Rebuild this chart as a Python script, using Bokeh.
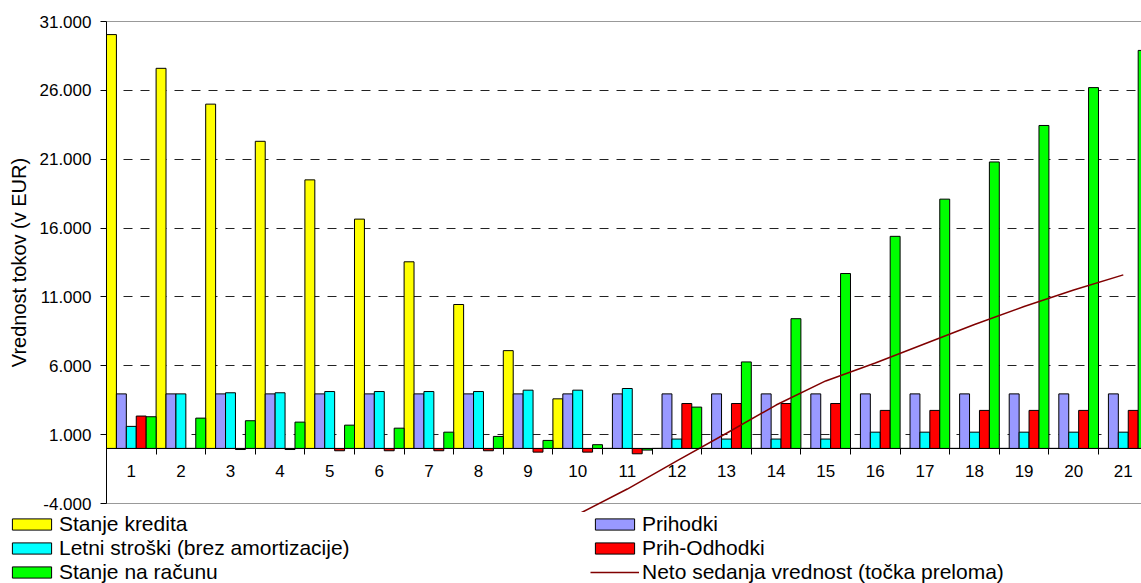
from bokeh.plotting import figure
from bokeh.models import Range1d, FixedTicker, Legend, LegendItem, ColumnDataSource, Grid
from bokeh.transform import dodge
from bokeh.embed import file_html
from bokeh.resources import INLINE

# ---- data ----
years = ["1", "2", "3", "4", "5", "6", "7", "8", "9", "10", "11",
         "12", "13", "14", "15", "16", "17", "18", "19", "20", "21"]

stanje_kredita = [30050, 27600, 25000, 22300, 19500, 16650, 13550, 10450, 7100, 3600, 0,
                  0, 0, 0, 0, 0, 0, 0, 0, 0, 0]
prihodki = [3960, 3960, 3960, 3960, 3960, 3960, 3960, 3960, 3960, 3960, 3960,
            3960, 3960, 3960, 3960, 3960, 3960, 3960, 3960, 3960, 3960]
letni_stroski = [1600, 3960, 4040, 4040, 4130, 4130, 4130, 4130, 4230, 4230, 4350,
                 680, 680, 680, 680, 1180, 1180, 1180, 1180, 1180, 1180]
prih_odhodki = [2350, 0, -80, -80, -170, -170, -170, -170, -270, -270, -390,
                3260, 3260, 3260, 3260, 2760, 2760, 2760, 2760, 2760, 2760]
stanje_na_racunu = [2300, 2200, 2010, 1910, 1690, 1470, 1180, 870, 580, 270, -120,
                    3000, 6280, 9420, 12700, 15400, 18100, 20800, 23450, 26200, 28900]
neto_sedanja = [-23800, -21700, -19600, -17500, -15400, -13300, -11100, -9000, -6900, -4800, -2950,
                -900, 1100, 3150, 4900, 6200, 7600, 9000, 10300, 11500, 12600]

y_tick_values = [-4000, 1000, 6000, 11000, 16000, 21000, 26000, 31000]
y_tick_labels = ["-4.000", "1.000", "6.000", "11.000", "16.000", "21.000", "26.000", "31.000"]
grid_values = [1000, 6000, 11000, 16000, 21000, 26000]
border_values = [-4000, 31000]

series_names = ["Stanje kredita", "Prihodki", "Letni stroški (brez amortizacije)",
                "Prih-Odhodki", "Stanje na računu"]
series_colors = ["#FFFF00", "#9999FF", "#00FFFF", "#FF0000", "#00FF00"]
line_name = "Neto sedanja vrednost (točka preloma)"
line_color = "#800000"

FONT = "Liberation Sans"

centers = [i + 0.5 for i in range(len(years))]
boundaries = [i for i in range(1, len(years))]

# view window (plot area: x 0..20.867 at px 106..1141, y -4000..31000 at px 503..21)
X_START, X_END = -2.137, 20.867
Y_START, Y_END = -9809.1, 32524.9

source = ColumnDataSource(dict(
    x=centers,
    s0=stanje_kredita, s1=prihodki, s2=letni_stroski, s3=prih_odhodki, s4=stanje_na_racunu,
    nsv=neto_sedanja,
))

p = figure(width=1141, height=583, output_backend="svg", toolbar_location=None,
           x_range=Range1d(X_START, X_END), y_range=Range1d(Y_START, Y_END),
           min_border_left=0, min_border_right=0, min_border_top=0, min_border_bottom=0)
p.background_fill_color = "white"
p.border_fill_color = "white"
p.outline_line_color = None

# grid (dashed) limited to the plot area
p.xgrid.visible = False
p.ygrid.ticker = FixedTicker(ticks=grid_values)
p.ygrid.grid_line_color = "#222222"
p.ygrid.grid_line_dash = "9 8"
p.ygrid.grid_line_width = 1
p.ygrid.cross_bounds = (0, X_END)

# plot-area top/bottom borders
border = Grid(dimension=1, ticker=FixedTicker(ticks=border_values), grid_line_color="#999999",
              grid_line_width=1, cross_bounds=(0, X_END))
p.add_layout(border)

# y axis drawn at x = 0
ya = p.yaxis[0]
ya.fixed_location = 0
ya.bounds = (-4000, 31000)
ya.ticker = FixedTicker(ticks=y_tick_values)
ya.major_label_overrides = dict(zip(y_tick_values, y_tick_labels))
ya.axis_label = "Vrednost tokov (v EUR)"
ya.axis_label_text_font = FONT
ya.axis_label_text_font_size = "20px"
ya.axis_label_text_font_style = "normal"
ya.axis_label_text_color = "black"
ya.axis_label_standoff = 7
ya.major_label_text_font = FONT
ya.major_label_text_font_size = "17px"
ya.major_label_text_color = "black"
ya.major_label_standoff = 9
ya.major_tick_out = 6
ya.major_tick_in = 0
ya.minor_tick_line_color = None
ya.axis_line_color = "black"
ya.major_tick_line_color = "black"

# x axis crossing at y = 0
xa = p.xaxis[0]
xa.ticker = FixedTicker(ticks=centers, minor_ticks=boundaries)
xa.major_label_overrides = dict(zip(centers, years))
xa.fixed_location = 0
xa.bounds = (0, X_END)
xa.major_label_text_font = FONT
xa.major_label_text_font_size = "17px"
xa.major_label_text_color = "black"
xa.major_label_standoff = 11
xa.major_tick_out = 0
xa.major_tick_in = 0
xa.minor_tick_out = 6
xa.minor_tick_in = 0
xa.minor_tick_line_color = "black"
xa.axis_line_color = "black"

# bars
cols = ["s0", "s1", "s2", "s3", "s4"]
bar_renderers = []
for j, (c, color) in enumerate(zip(cols, series_colors)):
    r = p.vbar(x=dodge("x", -0.4 + 0.2 * j, range=p.x_range), top=c, width=0.2, source=source,
               fill_color=color, line_color="black", line_width=1)
    bar_renderers.append(r)

line_r = p.line(x="x", y="nsv", source=source, line_color=line_color, line_width=1.5)

# legend: two columns below the plot area (row-major order), opaque white box
items = [LegendItem(label=series_names[0], renderers=[bar_renderers[0]]),
         LegendItem(label=series_names[1], renderers=[bar_renderers[1]]),
         LegendItem(label=series_names[2], renderers=[bar_renderers[2]]),
         LegendItem(label=series_names[3], renderers=[bar_renderers[3]]),
         LegendItem(label=series_names[4], renderers=[bar_renderers[4]]),
         LegendItem(label=line_name, renderers=[line_r])]

legend = Legend(items=items, location=(7, -1), orientation="horizontal", ncols=2,
                glyph_width=49, glyph_height=14, label_standoff=3, spacing=0,
                label_height=24, label_width=531, padding=4, margin=0,
                label_text_font=FONT, label_text_font_size="21px", label_text_color="black",
                border_line_color=None, background_fill_color="white", background_fill_alpha=1)
p.add_layout(legend)

open("out.html", "w").write(file_html(p, INLINE))
